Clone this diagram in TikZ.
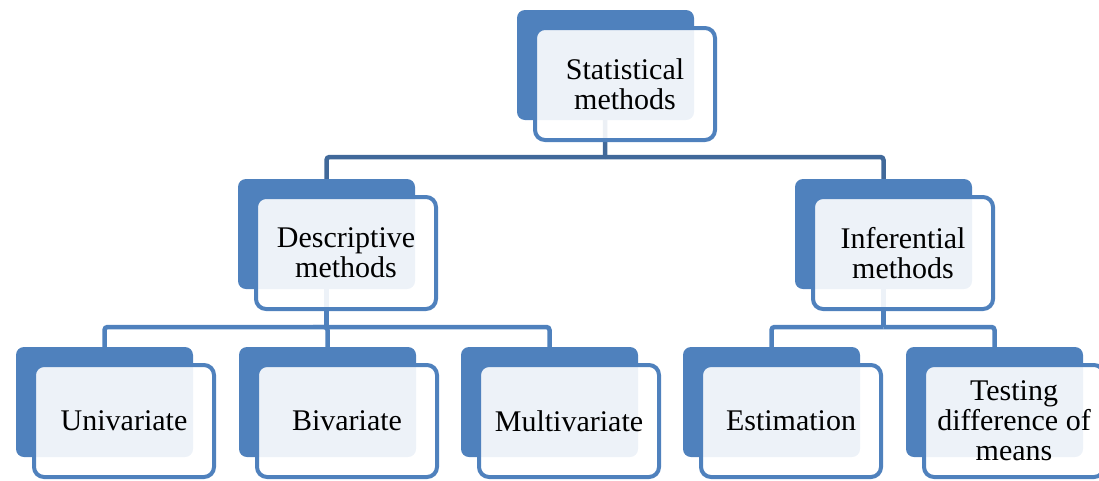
\documentclass[tikz,border=0pt]{standalone}
\usepackage{fontspec}
\setmainfont{Liberation Serif}
\definecolor{accent}{HTML}{4F81BD}
\definecolor{darkline}{HTML}{41699A}
\tikzset{
  backbox/.style={draw=none, fill=accent, rounded corners=8pt, minimum width=177pt, minimum height=110pt, inner sep=0pt},
  frontbox/.style={draw=accent, line width=4pt, fill=white, fill opacity=0.9, text opacity=1, rounded corners=10pt, minimum width=180pt, minimum height=112pt, inner sep=0pt, align=center, font=\fontsize{30}{30}\selectfont},
  conn/.style={line width=4.5pt, draw=accent, rounded corners=3pt},
  topconn/.style={line width=4.5pt, draw=darkline, rounded corners=3pt}
}
\newcommand{\twobox}[4]{%
  \node[backbox] (#1b) at (#2+88.5,#3+55) {};
  \node[frontbox] (#1) at (#2+108,#3+74) {#4};
}
\begin{document}
\begin{tikzpicture}[x=1pt,y=-1pt]
\useasboundingbox (0,0) rectangle (1099,480);
% connector anchors
\coordinate (s1) at (605,157);
\coordinate (d1) at (326.5,327);
\coordinate (i1) at (883.5,327);
% centres of the back boxes, where connectors end
\path (517+88.5,10+55) coordinate (Sc)
      (238+88.5,179+55) coordinate (Dc)
      (795+88.5,179+55) coordinate (Ic)
      (16+88.5,347+55) coordinate (Uc)
      (239+88.5,347+55) coordinate (Bc)
      (461+88.5,347+55) coordinate (Mc)
      (683+88.5,347+55) coordinate (Ec)
      (906+88.5,347+55) coordinate (Tc);
% connectors (drawn beneath boxes)
\draw[topconn] (Sc) -- (s1);
\draw[topconn] (s1) -| (Dc);
\draw[topconn] (s1) -| (Ic);
\draw[conn] (Dc) -- (d1);
\draw[conn] (d1) -| (Uc);
\draw[conn] (d1) -| (Bc);
\draw[conn] (d1) -| (Mc);
\draw[conn] (Ic) -- (i1);
\draw[conn] (i1) -| (Ec);
\draw[conn] (i1) -| (Tc);
% boxes
\twobox{S}{517}{10}{Statistical\\methods}
\twobox{D}{238}{179}{Descriptive\\methods}
\twobox{I}{795}{179}{Inferential\\methods}
\twobox{U}{16}{347}{Univariate}
\twobox{B}{239}{347}{Bivariate}
\twobox{M}{461}{347}{Multivariate}
\twobox{E}{683}{347}{Estimation}
\twobox{T}{906}{347}{Testing\\difference of\\means}
\end{tikzpicture}
\end{document}
